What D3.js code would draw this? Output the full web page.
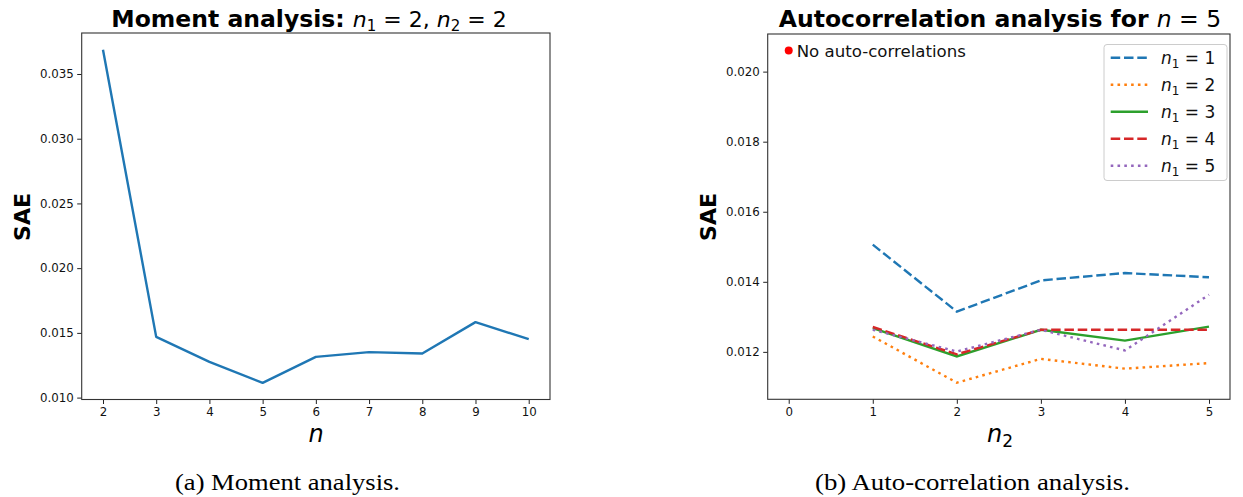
<!DOCTYPE html>
<html><head><meta charset="utf-8">
<script src="https://cdn.jsdelivr.net/npm/d3@7"></script>
<style>
body{margin:0;background:#fff;}
text{font-family:"DejaVu Sans",sans-serif;}
</style></head>
<body>
<svg id="c" width="1243" height="497"></svg>
<script>
// ---- Data ----
const momentN = [2,3,4,5,6,7,8,9,10];
const momentSAE = [0.03688,0.01469,0.01276,0.01114,0.01315,0.01351,0.01341,0.01583,0.01451];
const leftYTicks = [0.010,0.015,0.020,0.025,0.030,0.035];
const leftXTicks = [2,3,4,5,6,7,8,9,10];

const n2Values = [1,2,3,4,5];
const seriesN1 = [1,2,3,4,5];
const sae_n1_1 = [0.01506,0.01315,0.01404,0.01425,0.01413];
const sae_n1_2 = [0.01244,0.01112,0.01180,0.01152,0.01168];
const sae_n1_3 = [0.01268,0.01187,0.01263,0.01232,0.01272];
const sae_n1_4 = [0.01271,0.01193,0.01263,0.01263,0.01263];
const sae_n1_5 = [0.01263,0.01201,0.01263,0.01204,0.01363];
const noAutoPoint = [0, 0.0206];
const rightYTicks = [0.012,0.014,0.016,0.018,0.020];
const rightXTicks = [0,1,2,3,4,5];

const colors = ["#1f77b4","#ff7f0e","#2ca02c","#d62728","#9467bd"];
const dashes = ["9.5,3.8","2.6,4.2","none","9.5,3.8","2.6,4.2"];
const allSeries = [sae_n1_1,sae_n1_2,sae_n1_3,sae_n1_4,sae_n1_5];

const svg = d3.select("#c");
const fmt = d3.format(".3f");

function padDomain(lo, hi){ const r = hi-lo; return [lo-0.05*r, hi+0.05*r]; }

function drawAxes(g, x, y, xt, yt){
  const [x0,x1] = x.range(), [y0,y1] = y.range();
  const yax = g.append("g").attr("transform",`translate(${x0},0)`)
    .call(d3.axisLeft(y).tickValues(yt).tickFormat(fmt).tickSize(4.5).tickPadding(3.5));
  const xax = g.append("g").attr("transform",`translate(0,${y0})`)
    .call(d3.axisBottom(x).tickValues(xt).tickFormat(d3.format("d")).tickSize(4.5).tickPadding(4));
  [yax,xax].forEach(a=>{
    a.select(".domain").remove();
    a.selectAll(".tick line").attr("stroke","#222").attr("stroke-width",1);
    a.selectAll(".tick text").attr("font-size","11.8px").attr("fill","#111")
      .attr("font-family","DejaVu Sans");
  });
  g.append("rect").attr("x",x0).attr("y",y1).attr("width",x1-x0).attr("height",y0-y1)
    .attr("fill","none").attr("stroke","#333").attr("stroke-width",1.1);
}

// ---- Left chart ----
{
  const x = d3.scaleLinear().domain(padDomain(2,10)).range([81.7,550]);
  const y = d3.scaleLinear().domain(padDomain(d3.min(momentSAE),d3.max(momentSAE))).range([399.5,33]);
  const g = svg.append("g");
  const line = d3.line().x((d,i)=>x(momentN[i])).y(d=>y(d));
  g.append("path").datum(momentSAE).attr("d",line).attr("fill","none")
    .attr("stroke",colors[0]).attr("stroke-width",2.4).attr("stroke-linejoin","round");
  drawAxes(g,x,y,leftXTicks,leftYTicks);

  const t = g.append("text").attr("x",309).attr("y",27).attr("text-anchor","middle").attr("font-size","22px");
  t.append("tspan").attr("font-weight","bold").attr("font-size","23.5px").text("Moment analysis: ");
  t.append("tspan").attr("font-style","italic").text("n");
  t.append("tspan").attr("font-size","15px").attr("dy",4).text("1");
  t.append("tspan").attr("dy",-4).text(" = 2, ");
  t.append("tspan").attr("font-style","italic").text("n");
  t.append("tspan").attr("font-size","15px").attr("dy",4).text("2");
  t.append("tspan").attr("dy",-4).text(" = 2");

  g.append("text").attr("transform",`translate(30,217) rotate(-90)`).attr("text-anchor","middle")
    .attr("font-size","22px").attr("font-weight","bold").text("SAE");
  g.append("text").attr("x",316).attr("y",442).attr("text-anchor","middle")
    .attr("font-size","24px").attr("font-style","italic").text("n");
  g.append("text").attr("x",175).attr("y",490).attr("textLength",225).attr("lengthAdjust","spacingAndGlyphs")
    .attr("font-size","23px").attr("style","font-family:'Liberation Serif',serif").text("(a) Moment analysis.");
}

// ---- Right chart ----
{
  const allVals = allSeries.flat().concat([noAutoPoint[1]]);
  const x = d3.scaleLinear().domain(padDomain(0,5)).range([767.7,1230]);
  const y = d3.scaleLinear().domain(padDomain(d3.min(allVals),d3.max(allVals))).range([399.3,34]);
  const g = svg.append("g");
  const line = d3.line().x((d,i)=>x(n2Values[i])).y(d=>y(d));
  allSeries.forEach((s,k)=>{
    g.append("path").datum(s).attr("d",line).attr("fill","none")
      .attr("stroke",colors[k]).attr("stroke-width",2.4)
      .attr("stroke-dasharray",dashes[k]);
  });
  g.append("circle").attr("cx",x(noAutoPoint[0])).attr("cy",y(noAutoPoint[1])).attr("r",4).attr("fill","#ff0000");
  g.append("text").attr("x",x(noAutoPoint[0])+8).attr("y",y(noAutoPoint[1])+6)
    .attr("font-size","16.6px").attr("fill","#111").text("No auto-correlations");
  drawAxes(g,x,y,rightXTicks,rightYTicks);

  // legend
  const lg = g.append("g");
  lg.append("rect").attr("x",1104).attr("y",44.5).attr("width",123).attr("height",136).attr("rx",3)
    .attr("fill","#fff").attr("fill-opacity",0.8).attr("stroke","#ccc").attr("stroke-width",1);
  seriesN1.forEach((n,k)=>{
    const yy = 57.7 + k*27;
    lg.append("line").attr("x1",1110.7).attr("x2",1148).attr("y1",yy).attr("y2",yy)
      .attr("stroke",colors[k]).attr("stroke-width",2.4).attr("stroke-dasharray",dashes[k]);
    const t = lg.append("text").attr("x",1161).attr("y",yy+6).attr("font-size","17px").attr("fill","#111");
    t.append("tspan").attr("font-style","italic").text("n");
    t.append("tspan").attr("font-size","12px").attr("dy",4).text("1");
    t.append("tspan").attr("dy",-4).text(" = " + n);
  });

  const t = g.append("text").attr("x",1000).attr("y",27).attr("text-anchor","middle").attr("font-size","23.5px");
  t.append("tspan").attr("font-weight","bold").text("Autocorrelation analysis for ");
  t.append("tspan").attr("font-style","italic").text("n");
  t.append("tspan").text(" = 5");

  g.append("text").attr("transform",`translate(716,217) rotate(-90)`).attr("text-anchor","middle")
    .attr("font-size","22px").attr("font-weight","bold").text("SAE");
  const xl = g.append("text").attr("x",1000).attr("y",442).attr("text-anchor","middle").attr("font-size","24px");
  xl.append("tspan").attr("font-style","italic").text("n");
  xl.append("tspan").attr("font-size","17px").attr("dy",5).text("2");
  g.append("text").attr("x",815).attr("y",490).attr("textLength",315).attr("lengthAdjust","spacingAndGlyphs")
    .attr("font-size","23px").attr("style","font-family:'Liberation Serif',serif").text("(b) Auto-correlation analysis.");
}
</script>
</body></html>
